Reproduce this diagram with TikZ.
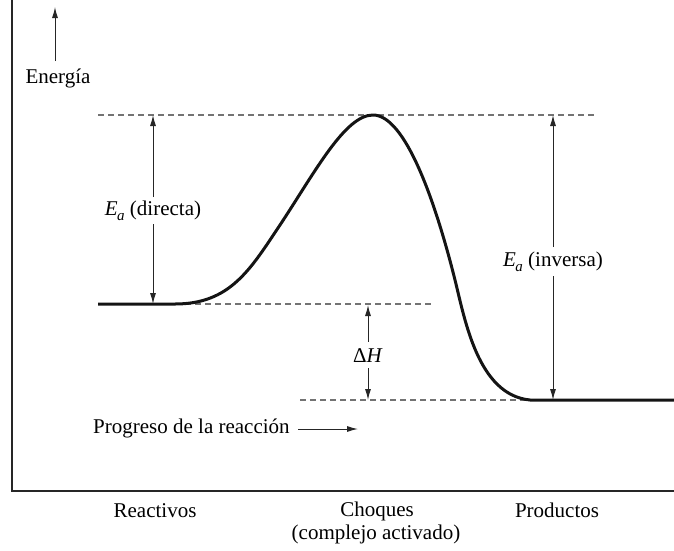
\documentclass[tikz,border=0pt]{standalone}
\usepackage{fontspec}
\setmainfont{Liberation Serif}
\usetikzlibrary{arrows.meta}
\newcommand{\Esub}[1]{\textit{E}\kern-0.5pt\raisebox{-0.28em}{\fontsize{15}{15}\selectfont\textit{#1}}}
\begin{document}
\begin{tikzpicture}[x=1pt,y=-1pt,
  lbl/.style={font=\fontsize{21}{25}\selectfont, inner sep=0pt, anchor=base},
  arrln/.style={draw=black!85, line width=1pt, -{Latex[length=11pt,width=6pt]}},
  guide/.style={draw=black!55, line width=1.2pt, dash pattern=on 6pt off 4pt},
  axis/.style={draw=black!85, line width=1.4pt},
  curve/.style={draw=black!92, line width=3pt, line join=round}]
\useasboundingbox (0,0) rectangle (674,550);

% axes
\coordinate (ytop) at (12,0);
\coordinate (orig) at (12,491);
\coordinate (xend) at (674,491);
\draw[axis] (ytop) -- (orig) -- (xend);

% energy arrow and label
\coordinate (eb) at (55,61);
\coordinate (et) at (55,7);
\draw[arrln] (eb) -- (et);
\node[lbl] (energia) at (58,83) {Energía};

% levels
\coordinate (topL) at (98,115);
\coordinate (topR) at (594,115);
\coordinate (peak) at (373,115);
\coordinate (reacL) at (98,304);
\coordinate (reacE) at (175,304);
\coordinate (reacR) at (432,304);
\coordinate (prodL) at (300,400);
\coordinate (prodS) at (530,400);
\coordinate (prodR) at (674,400);

\draw[guide] (topL) -- (topR);
\draw[guide] (reacE) -- (reacR);
\draw[guide] (prodL) -- (prodS);

% energy curve
\draw[curve] (reacL) -- (reacE) .. controls (230,304) and (250,270) .. (280,225)
  .. controls (315,172) and (345,115) .. (peak)
  .. controls (405,115) and (435,200) .. (455,280)
  .. controls (465,320) and (478,395) .. (prodS) -- (prodR);

% Ea directa
\node[lbl, inner ysep=3pt] (ead) at (153,215) {\Esub{a} (directa)};
\coordinate (eadT) at (153,115);
\coordinate (eadB) at (153,304);
\draw[arrln] (ead.north) -- (ead.north |- eadT);
\draw[arrln] (ead.south) -- (ead.south |- eadB);

% Delta H
\node[lbl, inner ysep=6pt] (dh) at (368,362) {Δ\textit{H}};
\coordinate (dhT) at (368,305);
\coordinate (dhB) at (368,400);
\draw[arrln] (dh.north) -- (dh.north |- dhT);
\draw[arrln] (dh.south) -- (dh.south |- dhB);

% Ea inversa
\node[lbl, inner ysep=4pt] (eai) at (553,266) {\Esub{a} (inversa)};
\coordinate (eaiT) at (553,115);
\coordinate (eaiB) at (553,400);
\draw[arrln] (eai.north) -- (eai.north |- eaiT);
\draw[arrln] (eai.south) -- (eai.south |- eaiB);

% progress
\node[lbl, anchor=base west] (prog) at (93,433) {Progreso de la reacción};
\coordinate (pa) at (298,429);
\coordinate (pb) at (358,429);
\draw[arrln] (pa) -- (pb);

% bottom labels
\node[lbl] (reac) at (155,517) {Reactivos};
\node[lbl] (choq) at (377,516) {Choques};
\node[lbl] (comp) at (376,539) {(complejo activado)};
\node[lbl] (prod) at (557,517) {Productos};
\end{tikzpicture}
\end{document}
